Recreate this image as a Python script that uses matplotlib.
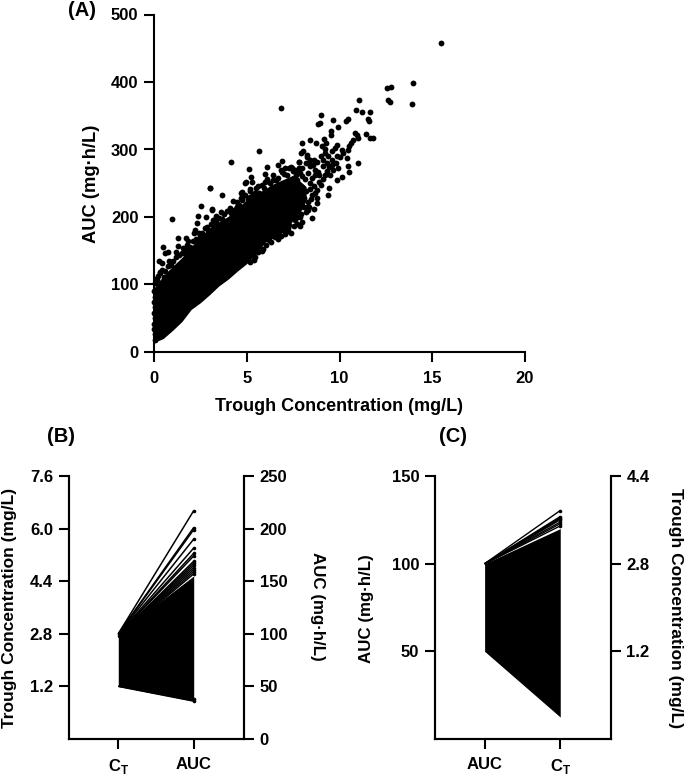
import matplotlib
matplotlib.use('Agg')
import matplotlib.pyplot as plt

plt.rcParams['font.family'] = ['Liberation Sans', 'DejaVu Sans']
plt.rcParams['font.weight'] = 'bold'
plt.rcParams['mathtext.fontset'] = 'custom'
plt.rcParams['mathtext.rm'] = 'Liberation Sans'
plt.rcParams['mathtext.bf'] = 'Liberation Sans:bold'

W, H = 685, 776

# panel A, single subjects
a_trough = [15.49, 13.94, 13.91, 12.76, 12.58, 12.61, 12.72, 11.07, 10.89, 11.21, 11.66, 11.52, 11.61,
            9.00, 8.84, 8.95, 9.63, 9.92, 9.52, 9.54, 10.35, 10.46, 10.84, 11.45, 11.66, 11.81,
            7.96, 8.39, 8.72, 9.15, 9.26, 9.06, 8.05, 7.92, 9.85, 9.76, 9.58, 9.24, 10.12, 10.17,
            10.03, 9.85, 10.75, 10.62, 10.53, 10.48, 11.00, 10.93, 11.00, 10.39, 10.48, 10.53, 10.12,
            9.85, 9.45, 9.40, 9.09, 9.13, 9.31, 9.45, 9.67, 9.90, 9.58, 8.86, 8.59, 8.41, 8.23, 8.68,
            7.82, 7.42, 7.60, 7.87, 8.14, 8.77, 8.80, 8.32, 8.23, 7.87, 8.41, 8.05, 7.69,
            6.86, 5.66, 4.17, 5.14, 6.07, 5.98, 5.23, 6.92, 6.70, 7.83, 7.40, 3.02, 4.94, 5.27, 3.67,
            4.73, 5.18, 5.62, 5.98, 6.40, 6.88, 4.24, 3.14, 3.61, 3.34, 4.73, 4.46, 4.19, 5.18, 5.45,
            6.34, 7.78, 7.06, 8.23, 8.37,
            0.97, 3.00, 2.55, 4.71, 4.90, 3.11, 2.35, 2.79, 2.30, 3.20, 3.34, 2.87, 2.21, 2.16, 1.29,
            1.72, 1.85, 2.48, 0.47, 1.28, 1.19, 0.59, 0.77, 0.29, 0.41, 0.83, 0.90, 1.58, 1.76, 0.32,
            0.54, 0.14, 0.05, 4.15, 4.67, 4.46, 5.08, 3.92, 2.57,
            6.20, 6.60, 7.00, 7.30, 7.60, 7.90, 5.80, 5.40, 6.50, 7.20, 7.70, 8.10]
a_auc = [457.8, 399.0, 367.4, 393.0, 391.6, 372.8, 370.8, 373.0, 358.5, 355.5, 356.0, 345.6, 342.7,
         351.6, 338.2, 338.7, 343.2, 333.3, 326.9, 321.0, 342.7, 345.0, 323.9, 323.0, 317.0, 317.0,
         310.0, 313.6, 309.6, 315.5, 310.0, 305.6, 297.7, 294.3, 306.6, 301.7, 298.2, 294.3, 299.2, 294.3,
         288.4, 290.3, 314.0, 310.0, 305.0, 299.0, 316.5, 321.4, 280.0, 287.9, 275.5, 266.1, 258.7,
         254.8, 242.4, 232.6, 255.8, 284.4, 279.5, 274.5, 269.6, 272.0, 277.0, 267.0, 277.0, 284.4, 291.8, 262.0,
         282.0, 272.0, 269.6, 264.7, 257.0, 227.6, 220.0, 210.0, 215.0, 200.5, 242.0, 230.0, 225.0,
         361.5, 298.2, 281.5, 271.0, 274.0, 263.7, 259.2, 283.4, 277.0, 282.0, 274.0, 243.0, 251.3, 251.3, 232.6,
         236.5, 241.5, 245.9, 252.3, 254.8, 267.0, 223.7, 211.3, 207.9, 201.5, 225.0, 215.0, 207.9, 230.0, 235.0,
         245.0, 268.6, 272.0, 289.0, 279.5,
         197.0, 243.0, 217.0, 236.0, 250.8, 210.4, 202.0, 200.5, 190.6, 195.5, 198.0, 185.7, 180.7, 175.8, 168.4,
         168.4, 164.4, 170.9, 155.5, 157.5, 148.6, 147.0, 148.6, 135.3, 131.4, 134.8, 128.9, 153.6, 151.1, 116.5,
         111.6, 106.7, 101.7, 206.4, 227.6, 215.3, 220.2, 193.0, 175.8,
         166.0, 172.0, 180.0, 188.0, 196.0, 204.0, 150.0, 137.0, 170.0, 184.0, 200.0, 215.0]

# points along the upper edge of the mass
top_trough = [0.1, 0.2, 0.3, 0.45, 0.6, 0.75, 0.9, 1.05, 1.2, 1.35, 1.5, 1.65, 1.8, 1.95, 2.1, 2.25, 2.4, 2.6,
              2.75, 2.9, 3.05, 3.2, 3.35, 3.5, 3.65, 3.8, 3.95, 4.1, 4.3, 4.45, 4.6, 4.75, 4.9, 5.05, 5.2,
              5.35, 5.5, 5.65, 5.8, 5.95, 6.1, 6.25, 6.4, 6.55, 6.7, 6.85, 7.0, 7.15, 7.3, 7.5, 7.65, 7.8, 8.0]
top_auc = [108, 112, 118, 122, 120, 127, 133, 135, 141, 144, 147, 146, 158, 155, 165, 168, 176, 172,
           183, 180, 190, 188, 193, 199, 197, 204, 209, 214, 211, 222, 218, 228, 232, 226, 238,
           232, 243, 236, 248, 243, 256, 250, 262, 255, 258, 270, 264, 262, 272, 268, 262, 272, 260]

# points along the lower edge of the mass
low_trough = [5.2, 5.45, 5.6, 5.85, 6.05, 6.3, 6.45, 6.7, 6.85, 7.05, 7.25, 7.4, 7.55, 7.7, 7.85, 8.0, 8.2,
              8.35, 8.5, 8.6, 8.45, 8.7]
low_auc = [134, 141, 148, 152, 158, 163, 176, 168, 172, 175, 179, 176, 186, 190, 187, 193, 208,
           215, 198, 212, 226, 235]

# points of the cluster right of the mass
mid_trough = [7.6, 7.8, 8.0, 8.2, 8.4, 8.6, 8.8, 9.0, 9.2, 8.3, 8.5, 8.7, 8.9, 9.1, 9.3, 9.5, 7.7, 8.0, 8.2, 8.4,
              8.6, 8.8, 9.0, 9.2, 9.4, 9.6, 9.8, 7.5, 8.1, 8.3, 8.5, 8.9]
mid_auc = [240, 235, 245, 238, 250, 246, 240, 248, 262, 265, 258, 270, 262, 275, 268, 262, 255, 272, 280, 275,
           285, 282, 290, 300, 290, 285, 280, 250, 228, 222, 232, 252]

# points on the y axis
zero_trough = [0.03, 0.03, 0.02, 0.02, 0.03, 0.02, 0.03, 0.02, 0.03, 0.02]
zero_auc = [18, 26, 34, 42, 50, 58, 66, 74, 82, 90]

# panel A, the part where the points merge into one black mass
core_trough = [0.0, 0.5, 1.0, 1.5, 2.0, 2.5, 3.0, 3.5, 4.0, 4.5, 5.0, 5.5, 6.0, 6.5, 7.0, 7.5, 8.0, 8.2]
core_upper = [95, 113, 127, 140, 156, 171, 184, 193, 201, 213, 226, 234, 242, 250, 256, 262, 250, 245]
core_lower = [14, 20, 32, 45, 63, 73, 85, 98, 108, 120, 131, 145, 163, 170, 178, 195, 212, 225]

# panel B: C_T (mg/L) to AUC (mg.h/L)
b_ct_range = [1.2, 2.8]
b_auc_range = [36, 155]
b_line_ct = [2.80, 2.80, 2.79, 2.79, 2.78, 2.77, 2.76, 2.75, 2.74, 2.73, 2.72, 2.71, 2.70, 2.69, 1.20, 1.21]
b_line_auc = [217, 201, 199, 190, 181.5, 176.5, 174, 169, 167, 165, 163, 161, 159, 157, 36, 38]

# panel C: AUC (mg.h/L) to C_T (mg/L)
c_auc_range = [50, 100]
c_ct_range = [0.0, 3.44]
c_line_auc = [100, 100, 100, 99.9, 99.9, 99.9, 99.8, 99.8]
c_line_ct = [3.77, 3.66, 3.64, 3.62, 3.60, 3.56, 3.53, 3.49]

left_ticks = [1.2, 2.8, 4.4, 6.0, 7.6]
auc_ticks_b = [0, 50, 100, 150, 200, 250]
auc_ticks_c = [50, 100, 150]
ct_ticks_c = [1.2, 2.8, 4.4]
ct_label = r'$\mathbf{C}_{\mathrm{T}}$'


def make_axes(x0, y0, x1, y1):
    return fig.add_axes([x0 / W, 1 - y1 / H, (x1 - x0) / W, (y1 - y0) / H])


def put_text(x, y, s, size=12.5, rotation=0):
    fig.text(x / W, 1 - y / H, s, ha='center', va='center', fontsize=size,
             rotation=rotation, fontweight='bold')


def style(ax):
    for sp in ax.spines.values():
        sp.set_linewidth(1.5)
    ax.tick_params(length=7.2, width=1.5, pad=4, labelsize=12)
    ax.patch.set_alpha(0)


fig = plt.figure(figsize=(W / 100, H / 100), dpi=100)

# (A)
ax = make_axes(154, 14.5, 525, 352)
ax.fill_between(core_trough, core_lower, core_upper, color='black', lw=0, clip_on=False)
for xs, ys in [(a_trough, a_auc), (top_trough, top_auc), (low_trough, low_auc),
               (mid_trough, mid_auc), (zero_trough, zero_auc)]:
    ax.plot(xs, ys, 'o', color='black', ms=4.2, mew=0, clip_on=False)
ax.set_xlim(0, 20)
ax.set_ylim(0, 500)
ax.set_xticks([0, 5, 10, 15, 20])
ax.set_yticks([0, 100, 200, 300, 400, 500])
ax.spines['top'].set_visible(False)
ax.spines['right'].set_visible(False)
style(ax)
ax.tick_params(axis='x', pad=6.5)
put_text(82, 10, '(A)', 14.5)
put_text(91, 184, 'AUC (mg·h/L)', 13.2, 90)
put_text(339, 406.5, 'Trough Concentration (mg/L)', 13)

# (B)
ax1 = make_axes(68.5, 476, 244, 739)
ax2 = ax1.twinx()
ax1.set_xlim(-0.66, 1.667)
ax1.set_ylim(-0.4, 7.6)
ax2.set_ylim(0, 250)


def b_scale(v):
    # AUC axis value to the height on the left axis
    return -0.4 + v * 8 / 250


ax1.fill_between([0, 1], [b_ct_range[0], b_scale(b_auc_range[0])],
                 [b_ct_range[1], b_scale(b_auc_range[1])], color='black', lw=0)
for c, a in zip(b_line_ct, b_line_auc):
    ax1.plot([0, 1], [c, b_scale(a)], '-o', color='black', lw=1.1, ms=2.6, mew=0, markevery=[1],
             solid_capstyle='butt')
ax1.set_xticks([0, 1])
ax1.set_xticklabels([ct_label, 'AUC'])
ax1.set_yticks(left_ticks)
ax2.set_yticks(auc_ticks_b)
ax1.spines['top'].set_visible(False)
ax2.spines['top'].set_visible(False)
style(ax1)
style(ax2)
ax1.tick_params(axis='x', pad=6)
put_text(61, 437, '(B)', 14.5)
put_text(10, 608, 'Trough Concentration (mg/L)', 12.5, 90)
put_text(318, 606, 'AUC (mg·h/L)', 12.2, 270)

# (C)
ax3 = make_axes(434.7, 476, 610.7, 739)
ax4 = ax3.twinx()
ax3.set_xlim(-0.66, 1.667)
ax3.set_ylim(0, 150)
ax4.set_ylim(-0.4, 4.4)


def c_scale(v):
    # C_T axis value to the height on the left axis
    return (v + 0.4) * 150 / 4.8


ax3.fill_between([0, 1], [c_auc_range[0], c_scale(c_ct_range[0])],
                 [c_auc_range[1], c_scale(c_ct_range[1])], color='black', lw=0)
for a, c in zip(c_line_auc, c_line_ct):
    ax3.plot([0, 1], [a, c_scale(c)], '-o', color='black', lw=1.0, ms=2.6, mew=0, markevery=[1],
             solid_capstyle='butt')
ax3.set_xticks([0, 1])
ax3.set_xticklabels(['AUC', ct_label])
ax3.set_yticks(auc_ticks_c)
ax4.set_yticks(ct_ticks_c)
ax3.spines['top'].set_visible(False)
ax4.spines['top'].set_visible(False)
style(ax3)
style(ax4)
ax3.tick_params(axis='x', pad=6)
put_text(453, 437, '(C)', 14.5)
put_text(367, 609, 'AUC (mg·h/L)', 12.2, 90)
put_text(676, 608, 'Trough Concentration (mg/L)', 12.5, 270)

fig.savefig('out.png', dpi=100)
